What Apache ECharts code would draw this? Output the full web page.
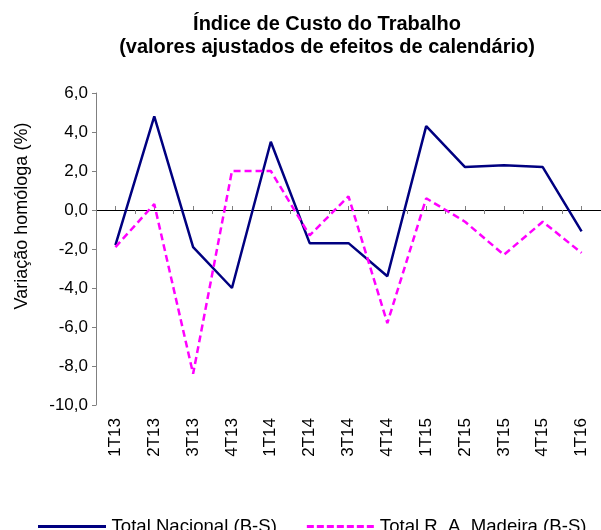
<!DOCTYPE html>
<html>
<head>
<meta charset="utf-8">
<script src="https://cdn.jsdelivr.net/npm/echarts@6/dist/echarts.min.js"></script>
<style>
  html, body { margin: 0; padding: 0; background: #fff; }
  #chart { width: 601px; height: 530px; }
</style>
</head>
<body>
<div id="chart"></div>
<script>
const categories = ['1T13', '2T13', '3T13', '4T13', '1T14', '2T14', '3T14', '4T14', '1T15', '2T15', '3T15', '4T15', '1T16'];
const nacional = [-1.8, 4.8, -1.9, -4.0, 3.5, -1.7, -1.7, -3.4, 4.3, 2.2, 2.3, 2.2, -1.1];
const madeira = [-1.9, 0.3, -8.4, 2.0, 2.0, -1.3, 0.7, -5.8, 0.6, -0.6, -2.3, -0.6, -2.2];

const font = 'Liberation Sans, Arial, sans-serif';
const chart = echarts.init(document.getElementById('chart'));

// same box for both grids: grid 1 only carries the category labels at the bottom
const box = { left: 96, right: -7, top: 93, bottom: 125 };

// legend icons: solid bar and dashed bar
const solidIcon = 'path://M0,0h68v3h-68z';
const dashedIcon = 'path://M0,0h7v3h-7z M10,0h7v3h-7z M20,0h7v3h-7z M30,0h7v3h-7z M40,0h7v3h-7z M50,0h7v3h-7z M60,0h7v3h-7z';

const option = {
  animation: false,
  title: {
    text: 'Índice de Custo do Trabalho\n(valores ajustados de efeitos de calendário)',
    left: 322,
    textAlign: 'center',
    top: 8,
    textStyle: { fontFamily: font, fontSize: 20, fontWeight: 'bold', color: '#000', lineHeight: 23 }
  },
  graphic: [{
    type: 'text',
    x: 13,
    y: 216,
    rotation: Math.PI / 2,
    style: {
      text: 'Variação homóloga (%)',
      font: '18px ' + font,
      fill: '#000',
      align: 'center',
      verticalAlign: 'top'
    }
  }],
  legend: {
    left: 33,
    top: 512,
    itemWidth: 69,
    itemHeight: 3,
    itemGap: 30,
    textStyle: { fontFamily: font, fontSize: 18.6, color: '#000' },
    data: [
      { name: 'Total Nacional (B-S)', icon: solidIcon, itemStyle: { color: '#000080' } },
      { name: 'Total R. A. Madeira (B-S)', icon: dashedIcon, itemStyle: { color: '#FF00FF' } }
    ]
  },
  grid: [box, box],
  xAxis: [
    {
      // zero line with ticks between categories, pointing down
      gridIndex: 0,
      type: 'category',
      data: categories,
      position: 'bottom',
      axisLine: { onZero: true, onZeroAxisIndex: 0, lineStyle: { color: '#000', width: 1 } },
      axisTick: { show: true, length: 4, lineStyle: { color: '#808080' } },
      axisLabel: { show: false }
    },
    {
      // ticks on the categories, pointing up
      gridIndex: 0,
      type: 'category',
      data: categories,
      position: 'top',
      axisLine: { show: false, onZero: true, onZeroAxisIndex: 2 },
      axisTick: { show: true, alignWithLabel: true, length: 4, lineStyle: { color: '#808080' } },
      axisLabel: { show: false }
    },
    {
      gridIndex: 1,
      type: 'category',
      data: categories,
      position: 'bottom',
      axisLine: { show: false, onZero: false },
      axisTick: { show: false },
      axisLabel: { rotate: 90, margin: 13, fontFamily: font, fontSize: 17, color: '#000' }
    }
  ],
  yAxis: [
    {
      gridIndex: 0,
      type: 'value',
      min: -10,
      max: 6,
      interval: 2,
      axisLine: { show: true, lineStyle: { color: '#808080' } },
      axisTick: { show: true, length: 4, lineStyle: { color: '#808080' } },
      splitLine: { show: false },
      axisLabel: {
        margin: 8,
        fontFamily: font,
        fontSize: 17,
        color: '#000',
        formatter: v => v.toFixed(1).replace('.', ',')
      }
    },
    {
      gridIndex: 1,
      type: 'value',
      min: -10,
      max: 6,
      show: false
    },
    {
      gridIndex: 0,
      type: 'value',
      min: -10,
      max: 6,
      show: false
    }
  ],
  series: [
    {
      name: 'Total Nacional (B-S)',
      type: 'line',
      xAxisIndex: 0,
      yAxisIndex: 0,
      data: nacional,
      symbol: 'none',
      lineStyle: { color: '#000080', width: 2.5 },
      itemStyle: { color: '#000080' }
    },
    {
      name: 'Total R. A. Madeira (B-S)',
      type: 'line',
      xAxisIndex: 0,
      yAxisIndex: 0,
      data: madeira,
      symbol: 'none',
      lineStyle: { color: '#FF00FF', width: 2.5, type: [7, 4] },
      itemStyle: { color: '#FF00FF' }
    }
  ]
};

chart.setOption(option);
</script>
</body>
</html>
